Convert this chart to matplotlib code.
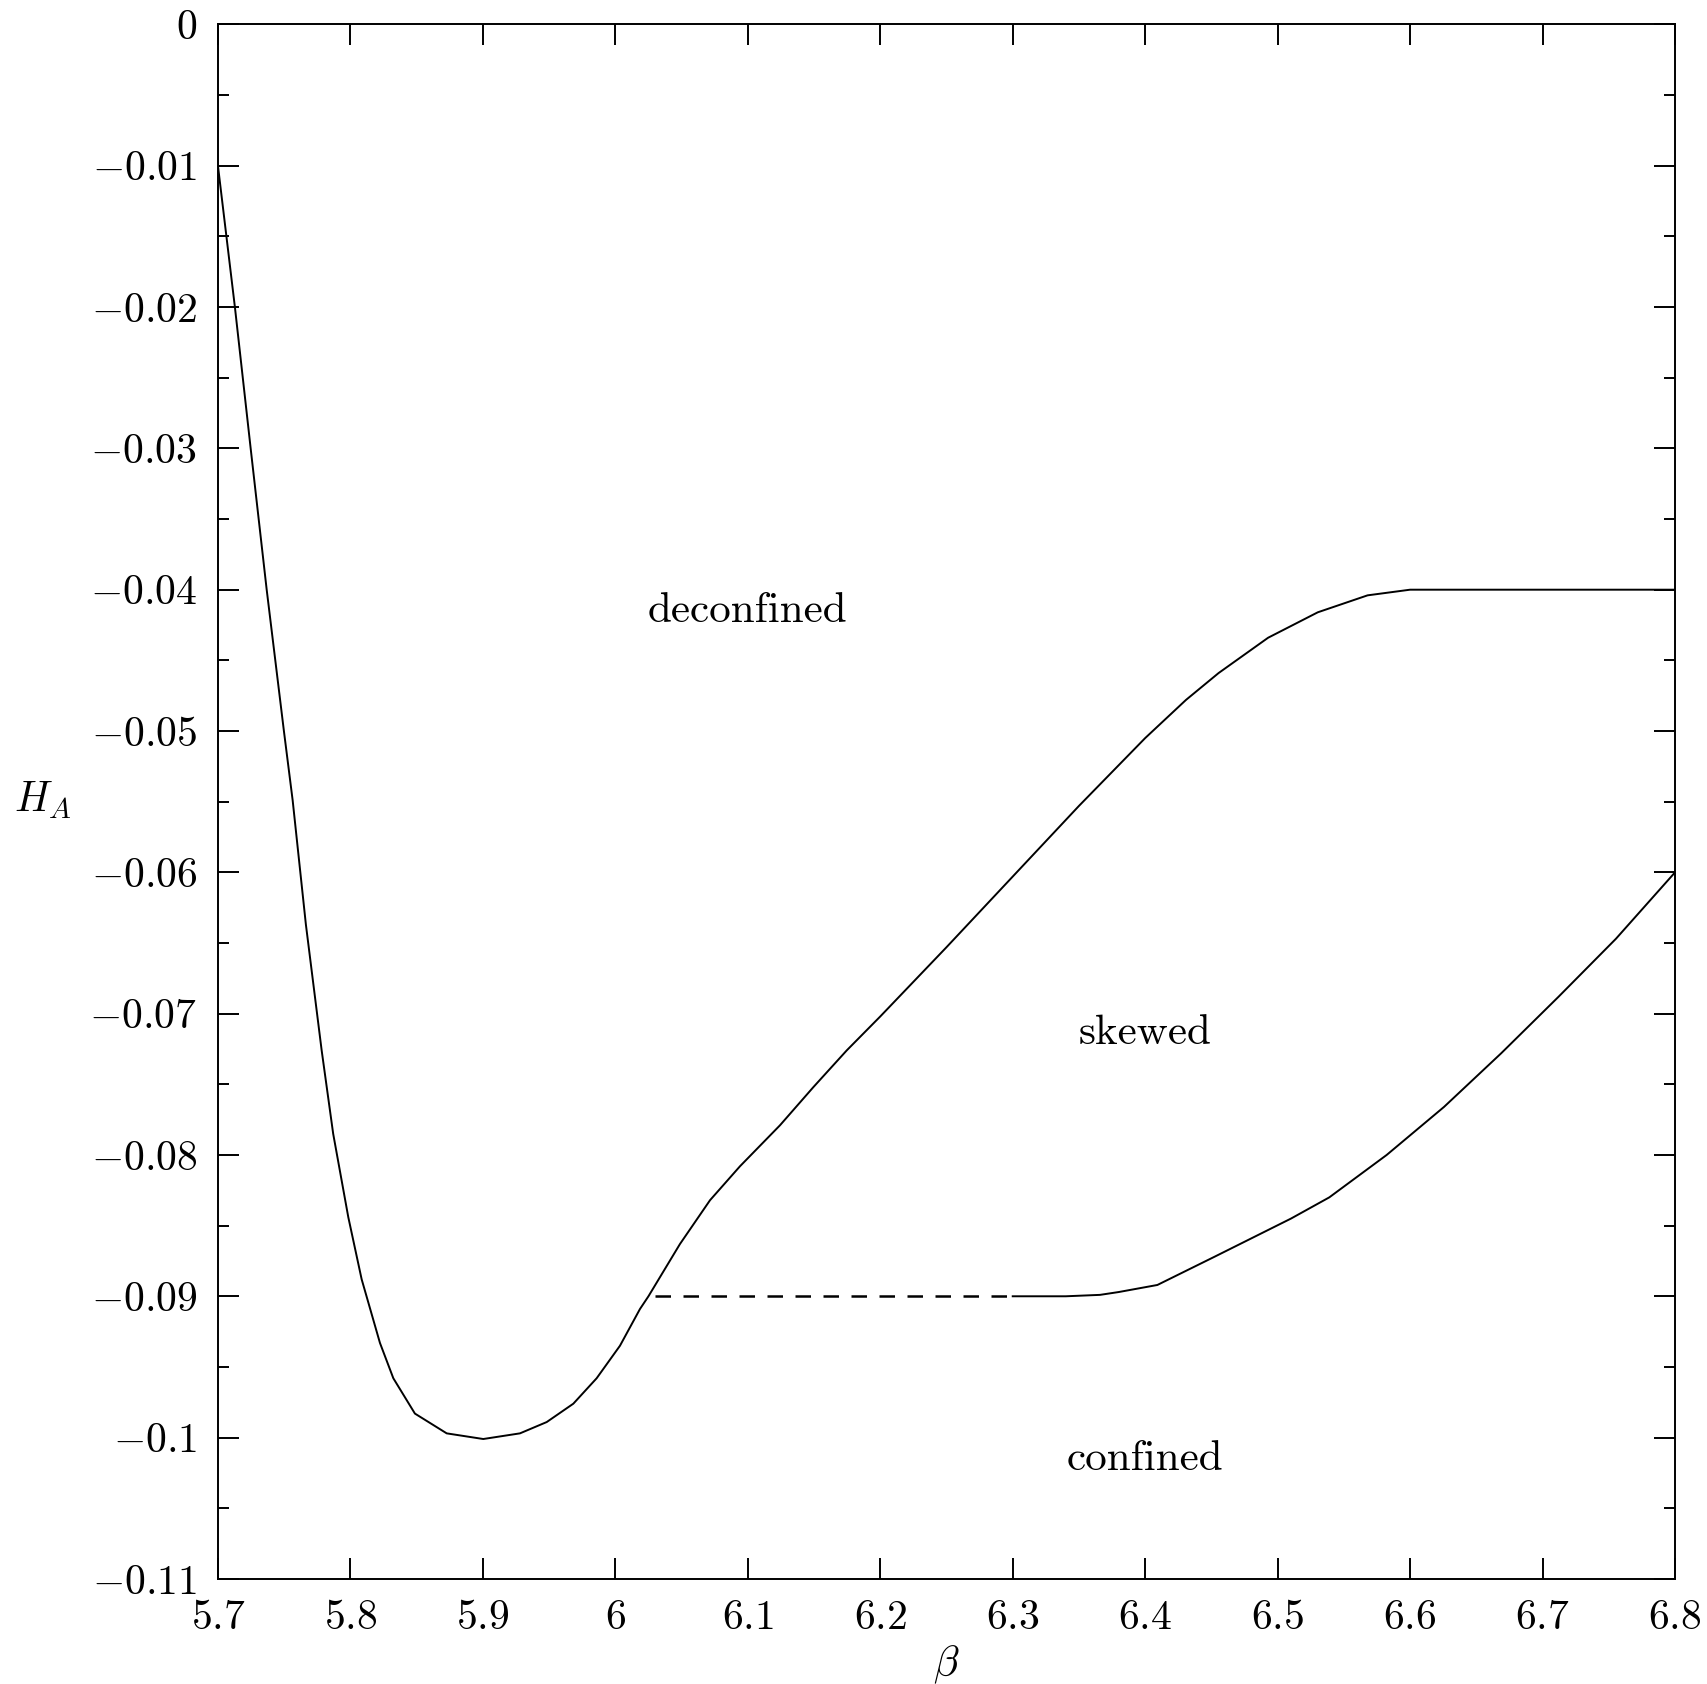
import numpy as np
import matplotlib
matplotlib.use("Agg")
import matplotlib.pyplot as plt

plt.rcParams['mathtext.fontset'] = 'cm'
plt.rcParams['font.family'] = ['cmr10', 'DejaVu Serif']
plt.rcParams['axes.unicode_minus'] = False

# phase boundary: deconfined / confined, then deconfined / skewed
upper_beta = [5.7, 5.7128, 5.7247, 5.7368, 5.7498, 5.7564, 5.7664, 5.7783,
              5.787, 5.7984, 5.8085, 5.8223, 5.8324, 5.8487, 5.8727, 5.9003,
              5.928, 5.9482, 5.9683, 5.9859, 6.0035, 6.0186, 6.025, 6.0488,
              6.0715, 6.0941, 6.1243, 6.1495, 6.1747, 6.2, 6.25, 6.3, 6.35,
              6.4, 6.4308, 6.4554, 6.4928, 6.5303, 6.5679, 6.6, 6.8]
upper_h = [-0.01, -0.02, -0.03, -0.04, -0.05, -0.0549, -0.0637, -0.0726,
           -0.0785, -0.0844, -0.0888, -0.0933, -0.0958, -0.0983, -0.0997,
           -0.1001, -0.0997, -0.0989, -0.0976, -0.0958, -0.0935, -0.0909,
           -0.09, -0.0863, -0.0832, -0.0808, -0.0779, -0.0752, -0.0726,
           -0.0702, -0.0653, -0.0603, -0.0553, -0.0505, -0.0478, -0.0459,
           -0.0434, -0.0416, -0.0404, -0.04, -0.04]

# phase boundary: skewed / confined
lower_beta = [6.3, 6.34, 6.3659, 6.38, 6.4092, 6.4524, 6.5101, 6.539, 6.5823,
              6.6256, 6.6688, 6.7121, 6.7554, 6.8]
lower_h = [-0.09, -0.09, -0.0899, -0.0897, -0.0892, -0.0872, -0.0845, -0.083,
           -0.08, -0.0766, -0.0728, -0.0688, -0.0647, -0.06]

# undetermined part of the boundary
dash_beta = [6.03, 6.3]
dash_h = [-0.09, -0.09]

x_ticks = [5.7, 5.8, 5.9, 6.0, 6.1, 6.2, 6.3, 6.4, 6.5, 6.6, 6.7, 6.8]
x_labels = ['5.7', '5.8', '5.9', '6', '6.1', '6.2', '6.3', '6.4', '6.5', '6.6', '6.7', '6.8']
y_ticks = [0, -0.01, -0.02, -0.03, -0.04, -0.05, -0.06, -0.07, -0.08, -0.09, -0.1, -0.11]
y_labels = ['0', '\u22120.01', '\u22120.02', '\u22120.03', '\u22120.04', '\u22120.05',
            '\u22120.06', '\u22120.07', '\u22120.08', '\u22120.09', '\u22120.1', '\u22120.11']

regions = ['deconfined', 'skewed', 'confined']
region_beta = [6.1, 6.4, 6.4]
region_h = [-0.0415, -0.0714, -0.1015]

fig = plt.figure(figsize=(17.08, 16.84), dpi=100)
ax = fig.add_axes([0.1276, 0.0624, 0.8531, 0.9231])

lw = 1.4
ax.plot(upper_beta, upper_h, color='black', lw=lw)
ax.plot(lower_beta, lower_h, color='black', lw=lw)
ax.plot(dash_beta, dash_h, color='black', lw=1.8, linestyle=(0, (6.2, 5.0)))

for name, bx, hy in zip(regions, region_beta, region_h):
    ax.text(bx, hy, name, fontsize=31, ha='center', va='center')

ax.set_xlim(5.7, 6.8)
ax.set_ylim(-0.11, 0)

ax.set_xticks(x_ticks)
ax.set_xticklabels(['$' + s + '$' for s in x_labels])
ax.set_yticks(y_ticks)
ax.set_yticklabels(['$' + s + '$' for s in y_labels])
ax.set_yticks(np.arange(-0.105, 0, 0.01), minor=True)

ax.tick_params(which='both', direction='in', top=True, right=True, width=1.4,
               labelsize=30)
ax.tick_params(axis='x', which='major', length=15, pad=14.5)
ax.tick_params(axis='y', which='major', length=15, pad=15)
ax.tick_params(which='minor', length=8)
for sp in ax.spines.values():
    sp.set_linewidth(1.4)

ax.set_xlabel(r'$\beta$', fontsize=30, va='center')
ax.xaxis.set_label_coords(0.5, -0.055)
ax.set_ylabel(r'$H_A$', fontsize=30, rotation=0, ha='center', va='center')
ax.yaxis.set_label_coords(-0.12, 0.501)

plt.savefig('out.png', dpi=100)
plt.close()
